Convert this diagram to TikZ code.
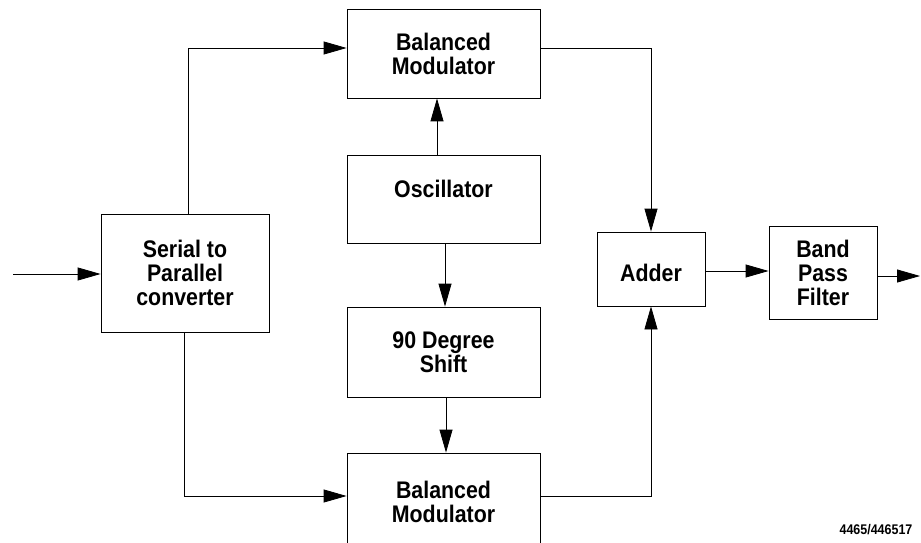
\documentclass[tikz,border=0pt]{standalone}
\usepackage{fontspec}
\setmainfont{Liberation Sans}[FakeStretch=0.89]
\usetikzlibrary{positioning,arrows.meta,calc}

\begin{document}
\begin{tikzpicture}[x=1pt, y=1pt, line width=0.8pt,
    font=\fontsize{24}{24}\selectfont\bfseries,
    block/.style={draw, align=center, inner sep=0pt},
    link/.style={-{Triangle[length=23pt, width=13pt]}}]
  \useasboundingbox (0,0) rectangle (921,542);
  % blocks
  \node[block, minimum width=168pt, minimum height=118pt] (serial) at (185,269)
    {Serial to\\Parallel\\converter};
  \node[block, minimum width=193pt, minimum height=89pt] (topmod) at (443.5,488.5)
    {Balanced\\Modulator};
  \node[block, minimum width=193pt, minimum height=88pt, text depth=21pt] (osc) at (443.5,343)
    {Oscillator};
  \node[block, minimum width=193pt, minimum height=90pt] (phase) at (443.5,190)
    {90 Degree\\Shift};
  \node[block, minimum width=193pt, minimum height=97pt] (botmod) at (443.5,40.5)
    {Balanced\\Modulator};
  \node[block, minimum width=108pt, minimum height=74pt, text height=26pt] (adder) at (651,273)
    {Adder};
  \node[block, minimum width=108pt, minimum height=93pt] (band) at (823,269.5)
    {Band\\Pass\\Filter};
  \node[font=\fontsize{14}{14}\selectfont\bfseries] (fignum) at (876,12) {4465/446517};
  % connectors
  \coordinate (input) at (13,268);
  \coordinate (output) at (920,266);
  \draw[link] (input) -- (input -| serial.west);
  \draw[link] ([xshift=3pt]serial.north) |- ([yshift=5.5pt]topmod.west);
  \draw[link] ([xshift=-1pt]serial.south) |- ([yshift=5.5pt]botmod.west);
  \draw[link] ([xshift=-6.5pt]osc.north) -- ([xshift=-6.5pt]topmod.south);
  \draw[link] ([xshift=1.5pt]osc.south) -- ([xshift=1.5pt]phase.north);
  \draw[link] ([xshift=2.5pt]phase.south) -- ([xshift=2.5pt]botmod.north);
  \draw[link] ([yshift=5.5pt]topmod.east) -| (adder.north);
  \draw[link] ([yshift=5.5pt]botmod.east) -| (adder.south);
  \draw[link] ([yshift=-2pt]adder.east) -- ([yshift=1.5pt]band.west);
  \draw[link] ([yshift=-3.5pt]band.east) -- (output);
\end{tikzpicture}
\end{document}
